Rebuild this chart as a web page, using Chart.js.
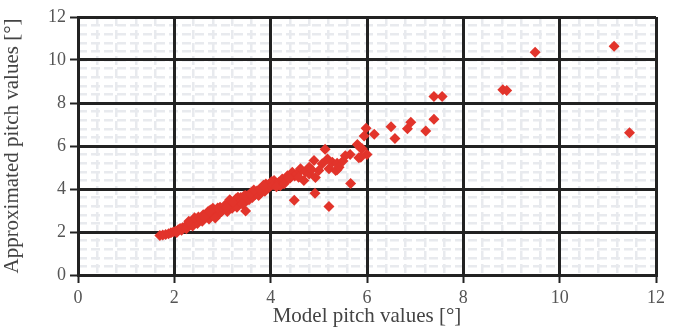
<!DOCTYPE html>
<html>
<head>
<meta charset="utf-8">
<script src="https://cdn.jsdelivr.net/npm/chart.js@4/dist/chart.umd.min.js"></script>
<style>
body{margin:0;background:#fff}
</style>
</head>
<body>
<canvas id="pitchChart" width="680" height="329"></canvas>
<script>
// ----------------------------
// DATA
// ----------------------------

const modelPitch = [
1.70,1.76,1.82,1.88,1.93,1.98,2.03,2.08,2.12,2.17,2.22,2.27,2.05,2.15,2.25,2.32,2.36,2.40,2.45,2.38,2.48,2.30,2.42,2.50,
2.55,2.60,2.65,2.70,2.72,2.78,2.80,2.84,2.88,2.92,2.95,2.58,2.68,2.85,2.98,2.62,2.75,2.90,
3.02,3.05,3.10,3.12,3.18,3.20,3.25,3.28,3.30,3.35,3.38,3.42,3.45,3.48,3.50,3.15,3.08,3.22,3.32,3.40,
3.52,3.55,3.60,3.62,3.68,3.72,3.75,3.80,3.83,3.88,3.90,3.95,3.97,4.00,4.02,3.45,3.41,3.58,3.65,3.78,3.85,
4.05,4.07,4.10,4.17,4.20,4.24,4.30,4.35,4.40,4.45,4.50,4.55,4.60,4.62,4.69,4.72,4.80,4.80,4.85,4.90,4.93,5.00,5.07,4.12,4.28,4.38,4.58,
5.13,5.21,5.28,5.35,5.38,5.38,5.42,5.50,5.65,5.80,5.86,5.83,6.00,5.98,6.15,5.94,5.90,5.87,5.18,5.55,
3.48,4.49,4.92,5.21,5.66,
6.50,6.58,6.84,6.91,7.22,7.39,7.39,7.56,8.82,8.90,9.49,11.13,11.45
]

const approxPitch = [
1.84,1.86,1.88,1.92,1.97,2.00,2.05,2.10,2.16,2.20,2.24,2.30,1.98,2.08,2.15,2.35,2.40,2.50,2.55,2.28,2.40,2.50,2.66,2.70,
2.60,2.80,2.68,2.95,2.60,2.85,3.10,2.75,3.00,2.82,3.15,2.50,2.78,2.65,2.95,2.70,3.02,3.12,
3.05,3.25,2.95,3.20,3.40,3.10,3.30,3.55,3.15,3.45,3.60,3.35,3.55,3.70,3.45,3.50,3.15,3.38,3.62,3.48,
3.69,3.50,3.84,3.60,3.75,3.92,3.70,3.85,4.08,3.90,4.23,4.05,4.23,4.15,4.35,3.69,3.30,3.78,3.95,4.00,4.18,
4.20,4.39,4.28,4.31,4.15,4.47,4.40,4.62,4.50,4.78,4.60,4.70,4.85,4.94,4.39,4.80,5.01,4.70,4.90,5.33,4.54,4.86,5.17,4.10,4.25,4.52,4.55,
5.85,4.94,5.25,4.86,5.20,4.90,5.01,5.30,5.60,6.07,5.92,5.45,5.60,6.83,6.55,6.47,5.87,5.48,5.40,5.55,
2.98,3.48,3.80,3.19,4.26,
6.90,6.35,6.80,7.10,6.70,7.25,8.30,8.30,8.62,8.58,10.36,10.64,6.62
]

const axisMin = 0
const axisMax = 12
const majorStep = 2
const minorStep = 0.4

const xTitle = "Model pitch values [°]"
const yTitle = "Approximated pitch values [°]"

// ----------------------------
// CHART
// ----------------------------

const points = modelPitch.map((x,i)=>({x:x, y:approxPitch[i]}))

const serif = "'Liberation Serif', 'DejaVu Serif', serif"

function majorAxis(title){
return {
type:"linear",
min:axisMin,
max:axisMax,
z:-1,
ticks:{
stepSize:majorStep,
color:"#555",
padding:4,
font:{family:serif, size:18}
},
grid:{
color:"#222",
lineWidth:3,
tickLength:8,
tickColor:"#222",
tickWidth:2
},
border:{display:true, color:"#222", width:3},
title:{
display:true,
text:title,
color:"#444",
padding:{top:0,bottom:0},
font:{family:serif, size:21}
}
}
}

function minorAxis(pos){
return {
type:"linear",
position:pos,
min:axisMin,
max:axisMax,
z:-2,
ticks:{display:false, stepSize:minorStep},
grid:{
color:"#e8eaee",
lineWidth:2.5,
drawTicks:false
},
border:{display:false, dash:[9,4]},
afterFit:(scale)=>{
if(pos==="bottom") scale.height = 0
else scale.width = 0
}
}
}

const xMajor = majorAxis(xTitle)
xMajor.position = "bottom"
xMajor.afterFit = (scale)=>{ scale.height = 54 }

const yMajor = majorAxis(yTitle)
yMajor.position = "left"
yMajor.afterFit = (scale)=>{ scale.width = 78 }

new Chart(document.getElementById("pitchChart"),{
type:"scatter",
data:{
datasets:[{
label:"pitch",
data:points,
pointStyle:"rectRot",
pointRadius:5.5,
pointBorderWidth:0,
backgroundColor:"#e2342b",
borderColor:"#e2342b"
}]
},
options:{
responsive:false,
animation:false,
layout:{padding:{top:17,right:24,left:0,bottom:0}},
plugins:{
legend:{display:false},
tooltip:{enabled:false}
},
scales:{
xMinor:minorAxis("bottom"),
yMinor:minorAxis("left"),
x:xMajor,
y:yMajor
}
}
})
</script>
</body>
</html>
